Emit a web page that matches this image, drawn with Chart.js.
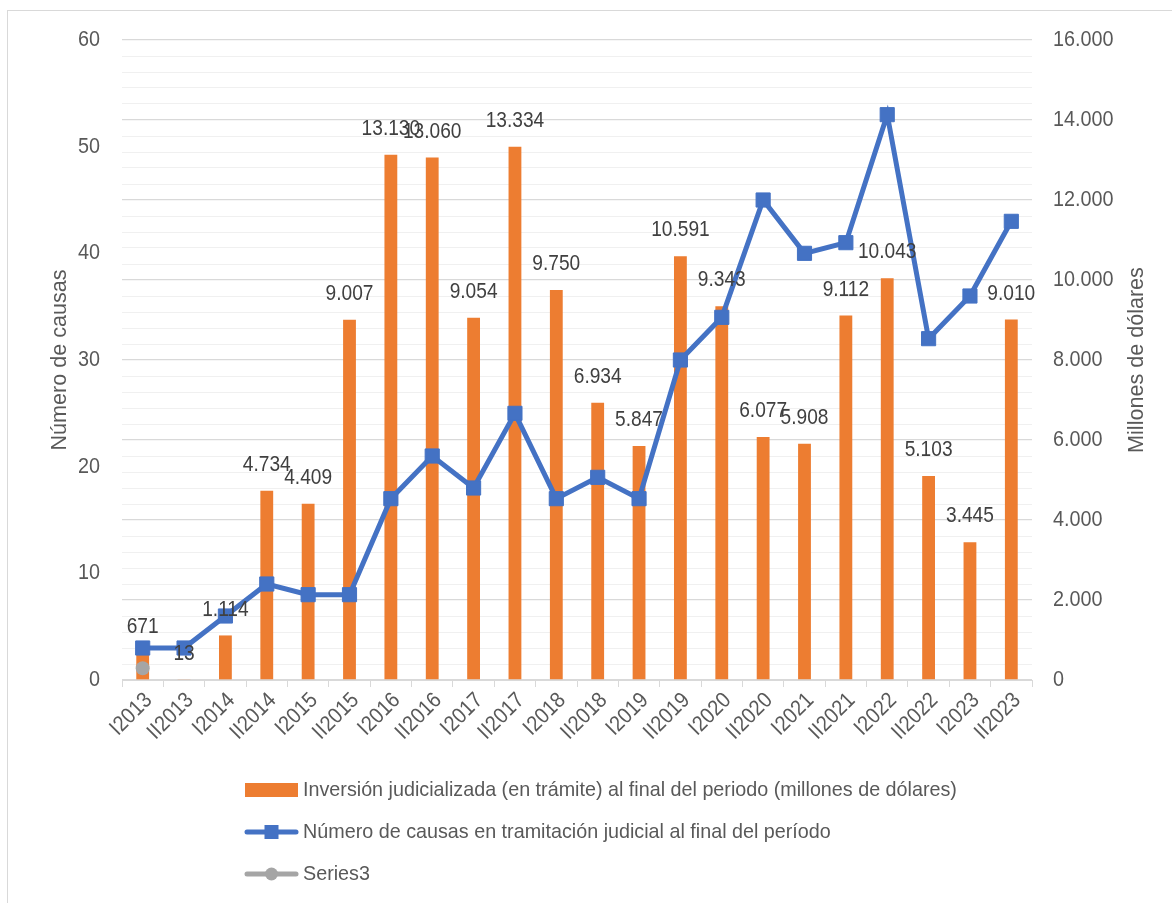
<!DOCTYPE html>
<html><head><meta charset="utf-8">
<script src="https://cdn.jsdelivr.net/npm/chart.js@4.4.0/dist/chart.umd.min.js"></script>
<style>
html,body{margin:0;padding:0;background:#fff;overflow:hidden;width:1172px;height:903px;}
#frame{position:absolute;left:7px;top:10px;width:1300px;height:1000px;border:1px solid #d9d9d9;box-sizing:border-box;}
#c{position:absolute;left:0;top:0;}
</style></head><body>
<div id="frame"></div>
<canvas id="c" width="1172" height="903"></canvas>
<script>
const categories = ["I2013","II2013","I2014","II2014","I2015","II2015","I2016","II2016","I2017","II2017","I2018","II2018","I2019","II2019","I2020","II2020","I2021","II2021","I2022","II2022","I2023","II2023"];
const inversion = [671,13,1114,4734,4409,9007,13130,13060,9054,13334,9750,6934,5847,10591,9343,6077,5908,9112,10043,5103,3445,9010];
const causas = [3,3,6,9,8,8,17,21,18,25,17,19,17,30,34,45,40,41,53,32,36,43];
const series3 = [1.1,null,null,null,null,null,null,null,null,null,null,null,null,null,null,null,null,null,null,null,null,null];
const leftTickValues = [0,10,20,30,40,50,60];
const rightTickValues = [0,2000,4000,6000,8000,10000,12000,14000,16000];
const leftAxis = {min:0, max:60, step:10};
const rightAxis = {min:0, max:16000, step:400, majorStep:2000};
const names = {
  bars: "Inversión judicializada (en trámite) al final del periodo (millones de dólares)",
  line: "Número de causas en tramitación judicial al final del período",
  s3: "Series3",
  leftTitle: "Número de causas",
  rightTitle: "Millones de dólares"
};

const FONT = '"Liberation Sans", Arial, sans-serif';
const TXT = '#595959';
const ORANGE = '#ED7D31', BLUE = '#4472C4', GRAY = '#A5A5A5';
const fmt = v => String(Math.round(v)).replace(/\B(?=(\d{3})+(?!\d))/g, '.');

function txt(ctx, s, x, y, align, sx, rot) {
  ctx.save();
  ctx.translate(x, y);
  if (rot) ctx.rotate(rot);
  ctx.scale(sx, 1);
  ctx.textAlign = align;
  ctx.textBaseline = 'middle';
  ctx.fillText(s, 0, 0);
  ctx.restore();
}

const extras = {
  id: 'extras',
  afterDatasetsDraw(chart) {
    const ctx = chart.ctx;
    const meta = chart.getDatasetMeta(2);
    ctx.save();
    ctx.font = '22px ' + FONT;
    ctx.fillStyle = '#404040';
    meta.data.forEach((bar, i) => {
      txt(ctx, fmt(inversion[i]), bar.x, bar.y - 26, 'center', 0.87);
    });
    ctx.restore();
  },
  afterDraw(chart) {
    const ctx = chart.ctx;
    const ca = chart.chartArea;
    const sL = chart.scales.yL, sR = chart.scales.yR, sX = chart.scales.x;
    ctx.save();
    ctx.fillStyle = TXT;
    ctx.font = '22px ' + FONT;
    leftTickValues.forEach(v => txt(ctx, String(v), ca.left - 22, sL.getPixelForValue(v), 'right', 0.9));
    rightTickValues.forEach(v => txt(ctx, fmt(v), ca.right + 21, sR.getPixelForValue(v), 'left', 0.9));
    categories.forEach((c, i) => {
      txt(ctx, c, sX.getPixelForValue(i) + 6, ca.bottom + 17, 'right', 0.9, -Math.PI / 4);
    });
    const cy = (ca.top + ca.bottom) / 2;
    txt(ctx, names.leftTitle, 60, cy, 'center', 0.98, -Math.PI / 2);
    txt(ctx, names.rightTitle, 1137, cy, 'center', 0.98, -Math.PI / 2);
    const lx = ca.left + 123, ly = ca.bottom + 110, gap = 42, sw = 53;
    ctx.font = '21px ' + FONT;
    ctx.fillStyle = ORANGE;
    ctx.fillRect(lx, ly - 7, sw, 14);
    ctx.fillStyle = TXT;
    txt(ctx, names.bars, lx + sw + 5, ly, 'left', 0.94);
    const y2 = ly + gap;
    ctx.strokeStyle = BLUE; ctx.lineWidth = 5; ctx.lineCap = 'round';
    ctx.beginPath(); ctx.moveTo(lx + 2, y2); ctx.lineTo(lx + sw - 2, y2); ctx.stroke();
    ctx.fillStyle = BLUE;
    ctx.fillRect(lx + sw / 2 - 7, y2 - 7, 14, 14);
    ctx.fillStyle = TXT;
    txt(ctx, names.line, lx + sw + 5, y2, 'left', 0.94);
    const y3 = ly + 2 * gap;
    ctx.strokeStyle = GRAY;
    ctx.beginPath(); ctx.moveTo(lx + 2, y3); ctx.lineTo(lx + sw - 2, y3); ctx.stroke();
    ctx.fillStyle = GRAY;
    ctx.beginPath(); ctx.arc(lx + sw / 2, y3, 6.5, 0, Math.PI * 2); ctx.fill();
    ctx.fillStyle = TXT;
    txt(ctx, names.s3, lx + sw + 5, y3, 'left', 0.94);
    ctx.restore();
  }
};

new Chart(document.getElementById('c'), {
  type: 'bar',
  data: {
    labels: categories,
    datasets: [
      {type: 'line', label: names.line, data: causas, yAxisID: 'yL',
       borderColor: BLUE, backgroundColor: BLUE, borderWidth: 5,
       pointStyle: 'rect', pointRadius: 10, pointBorderWidth: 1, pointBackgroundColor: BLUE,
       tension: 0, order: 2},
      {type: 'line', label: names.s3, data: series3, yAxisID: 'yL',
       borderColor: GRAY, backgroundColor: GRAY, showLine: false,
       pointStyle: 'circle', pointRadius: 7, pointBorderWidth: 0, order: 1},
      {type: 'bar', label: names.bars, data: inversion, yAxisID: 'yR',
       backgroundColor: ORANGE, barPercentage: 0.31, categoryPercentage: 1, order: 3}
    ]
  },
  options: {
    responsive: false,
    animation: false,
    devicePixelRatio: 1,
    layout: {padding: {top: 40, left: 0, right: 0, bottom: 0}},
    plugins: {legend: {display: false}, tooltip: {enabled: false}},
    scales: {
      x: {
        offset: true,
        grid: {display: true, drawOnChartArea: false, offset: true, tickLength: 7, color: '#d9d9d9'},
        border: {color: '#d9d9d9', width: 1},
        ticks: {display: false},
        afterFit: s => { s.height = 223; }
      },
      yL: {
        position: 'left', min: leftAxis.min, max: leftAxis.max,
        ticks: {stepSize: leftAxis.step, display: false},
        grid: {display: false},
        border: {display: false},
        afterFit: s => { s.width = 122; }
      },
      yR: {
        position: 'right', min: rightAxis.min, max: rightAxis.max,
        ticks: {stepSize: rightAxis.step, autoSkip: false, display: false},
        grid: {drawTicks: false,
               color: c => (c.tick && c.tick.value % rightAxis.majorStep === 0 ? '#d9d9d9' : '#f0f0f0'),
               lineWidth: c => (c.tick && c.tick.value % rightAxis.majorStep === 0 ? 1.3 : 1)},
        border: {display: false},
        afterFit: s => { s.width = 140; }
      }
    }
  },
  plugins: [extras]
});
</script>
</body></html>
